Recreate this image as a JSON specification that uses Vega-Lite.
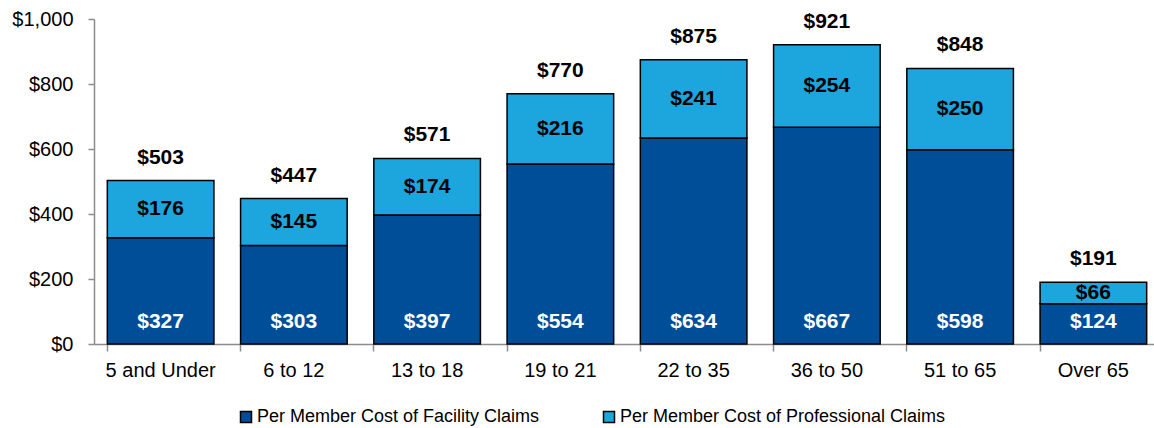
{
  "$schema": "https://vega.github.io/schema/vega-lite/v6.json",
  "width": 1066,
  "height": 325,
  "autosize": {"type": "none"},
  "padding": {"left": 94, "top": 19, "right": 0, "bottom": 84},
  "background": "white",
  "config": {
    "view": {"stroke": null},
    "font": "Liberation Sans",
    "axis": {
      "domainColor": "#8c8c8c",
      "tickColor": "#8c8c8c",
      "domainWidth": 1.5,
      "tickWidth": 1.5,
      "labelColor": "black",
      "labelFont": "Liberation Sans",
      "labelFontSize": 20,
      "grid": false,
      "title": null
    }
  },
  "data": {
    "values": [
      {"age": "5 and Under", "type": "Per Member Cost of Facility Claims", "value": 327, "total": 503},
      {"age": "5 and Under", "type": "Per Member Cost of Professional Claims", "value": 176, "total": 503},
      {"age": "6 to 12", "type": "Per Member Cost of Facility Claims", "value": 303, "total": 447},
      {"age": "6 to 12", "type": "Per Member Cost of Professional Claims", "value": 145, "total": 447},
      {"age": "13 to 18", "type": "Per Member Cost of Facility Claims", "value": 397, "total": 571},
      {"age": "13 to 18", "type": "Per Member Cost of Professional Claims", "value": 174, "total": 571},
      {"age": "19 to 21", "type": "Per Member Cost of Facility Claims", "value": 554, "total": 770},
      {"age": "19 to 21", "type": "Per Member Cost of Professional Claims", "value": 216, "total": 770},
      {"age": "22 to 35", "type": "Per Member Cost of Facility Claims", "value": 634, "total": 875},
      {"age": "22 to 35", "type": "Per Member Cost of Professional Claims", "value": 241, "total": 875},
      {"age": "36 to 50", "type": "Per Member Cost of Facility Claims", "value": 667, "total": 921},
      {"age": "36 to 50", "type": "Per Member Cost of Professional Claims", "value": 254, "total": 921},
      {"age": "51 to 65", "type": "Per Member Cost of Facility Claims", "value": 598, "total": 848},
      {"age": "51 to 65", "type": "Per Member Cost of Professional Claims", "value": 250, "total": 848},
      {"age": "Over 65", "type": "Per Member Cost of Facility Claims", "value": 124, "total": 191},
      {"age": "Over 65", "type": "Per Member Cost of Professional Claims", "value": 66, "total": 191}
    ]
  },
  "transform": [
    {"stack": "value", "groupby": ["age"], "sort": [{"field": "type", "order": "ascending"}], "as": ["y0", "y1"]},
    {"calculate": "(datum.y0 + datum.y1) / 2", "as": "mid"}
  ],
  "encoding": {
    "x": {
      "field": "age",
      "type": "nominal",
      "sort": ["5 and Under", "6 to 12", "13 to 18", "19 to 21", "22 to 35", "36 to 50", "51 to 65", "Over 65"],
      "scale": {"paddingInner": 0.2, "paddingOuter": 0.1},
      "axis": {"labelAngle": 0, "bandPosition": 0, "tickSize": 7, "labelPadding": 9, "ticks": true}
    }
  },
  "layer": [
    {
      "mark": {"type": "bar", "stroke": "black", "strokeWidth": 1.5},
      "encoding": {
        "y": {
          "field": "y1",
          "type": "quantitative",
          "scale": {"domain": [0, 1000], "nice": false},
          "axis": {"values": [0, 200, 400, 600, 800, 1000], "format": "$,.0f", "tickSize": 6, "labelPadding": 15}
        },
        "y2": {"field": "y0"},
        "color": {
          "field": "type",
          "type": "nominal",
          "scale": {
            "domain": ["Per Member Cost of Facility Claims", "Per Member Cost of Professional Claims"],
            "range": ["#004E98", "#1DA5DE"]
          },
          "legend": {
            "title": null,
            "orient": "none",
            "direction": "horizontal",
            "legendX": 143,
            "legendY": 389,
            "padding": 0,
            "symbolType": "square",
            "symbolSize": 121,
            "symbolStrokeColor": "black",
            "symbolStrokeWidth": 1.5,
            "labelFontSize": 18,
            "labelColor": "black",
            "labelOffset": 2,
            "columnPadding": 60,
            "labelLimit": 400
          }
        }
      }
    },
    {
      "transform": [{"filter": "datum.type === 'Per Member Cost of Facility Claims'"}],
      "mark": {"type": "text", "fontSize": 21, "fontWeight": "bold", "color": "black", "baseline": "middle", "dy": -23},
      "encoding": {
        "y": {"field": "total", "type": "quantitative"},
        "text": {"field": "total", "type": "quantitative", "format": "$,.0f"}
      }
    },
    {
      "transform": [{"filter": "datum.type === 'Per Member Cost of Professional Claims'"}],
      "mark": {"type": "text", "fontSize": 21, "fontWeight": "bold", "color": "black", "baseline": "middle"},
      "encoding": {
        "y": {"field": "mid", "type": "quantitative"},
        "text": {"field": "value", "type": "quantitative", "format": "$,.0f"}
      }
    },
    {
      "transform": [{"filter": "datum.type === 'Per Member Cost of Facility Claims'"}],
      "mark": {"type": "text", "fontSize": 21, "fontWeight": "bold", "color": "white", "baseline": "middle", "dy": -22},
      "encoding": {
        "y": {"datum": 0, "type": "quantitative"},
        "text": {"field": "value", "type": "quantitative", "format": "$,.0f"}
      }
    }
  ]
}
